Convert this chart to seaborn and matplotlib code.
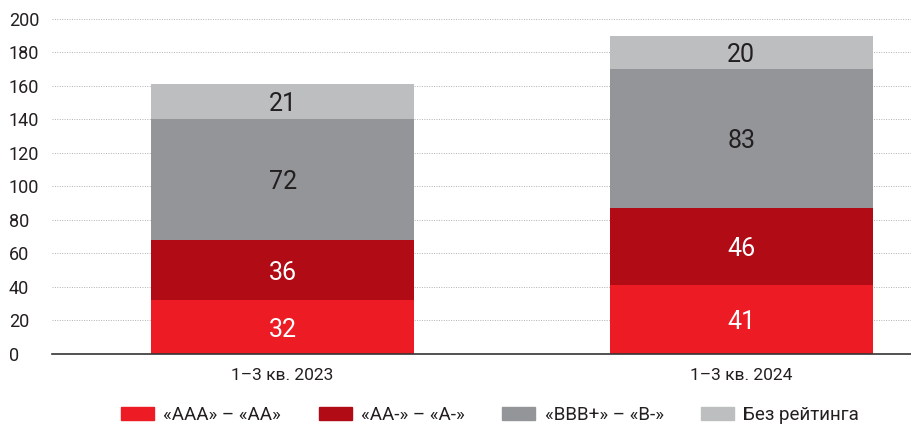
import numpy as np
import pandas as pd
import seaborn as sns
import matplotlib.pyplot as plt
from matplotlib.patches import Patch

# data
periods = ["1–3 кв. 2023", "1–3 кв. 2024"]
series = ["«AAA» – «AA»", "«AA-» – «A-»", "«BBB+» – «B-»", "Без рейтинга"]
aaa = [32, 41]
aa_a = [36, 46]
bbb_b = [72, 83]
no_rating = [21, 20]
colors = ["#ED1C24", "#B10C16", "#939598", "#BCBEC0"]

sns.set_style("white")
plt.rcParams["font.family"] = ["Roboto", "DejaVu Sans"]
txt = "#231F20"

fig = plt.figure(figsize=(9.11, 4.29), dpi=100)
ax = fig.add_axes([0.057, 0.175, 0.943, 0.781])

values = [aaa, aa_a, bbb_b, no_rating]
cum = np.cumsum(np.array(values), axis=0)

# draw from the top layer down so lower layers cover the upper ones
for i in range(len(values) - 1, -1, -1):
    df = pd.DataFrame({"period": periods, "total": cum[i]})
    sns.barplot(data=df, x="period", y="total", color=colors[i],
                width=0.574, saturation=1, linewidth=0, edgecolor="none",
                ax=ax, zorder=2)

for i, vals in enumerate(values):
    for j, v in enumerate(vals):
        mid = cum[i][j] - v / 2
        c = "white" if i < 2 else txt
        ax.text(j, mid, str(v), ha="center", va="center_baseline",
                fontsize=18, color=c, zorder=3)

ax.set_ylim(0, 200)
ax.set_xlim(-0.503, 1.37)
ax.set_yticks(range(0, 201, 20))
ax.yaxis.grid(True, linestyle=(0, (1, 1.5)), color="#B0B0B0", linewidth=0.7, zorder=0)
ax.set_axisbelow(True)
ax.set_xlabel("")
ax.set_ylabel("")
for s in ["top", "right", "left"]:
    ax.spines[s].set_visible(False)
ax.spines["bottom"].set_color("#333333")
ax.spines["bottom"].set_linewidth(1.2)
ax.tick_params(axis="y", length=0, labelsize=13, labelcolor=txt, pad=0)
ax.tick_params(axis="x", length=0, labelsize=12.5, labelcolor=txt, pad=10)
for lab in ax.get_yticklabels():
    lab.set_horizontalalignment("left")
    lab.set_x(-0.050)

handles = [Patch(color=c, label=s) for c, s in zip(colors, series)]
fig.legend(handles=handles, loc="center", bbox_to_anchor=(0.538, 0.033), ncol=4,
           frameon=False, fontsize=13.5, handlelength=1.76, handleheight=0.7,
           columnspacing=2.0, handletextpad=0.5, labelcolor=txt)

fig.savefig("out.png", dpi=100)
